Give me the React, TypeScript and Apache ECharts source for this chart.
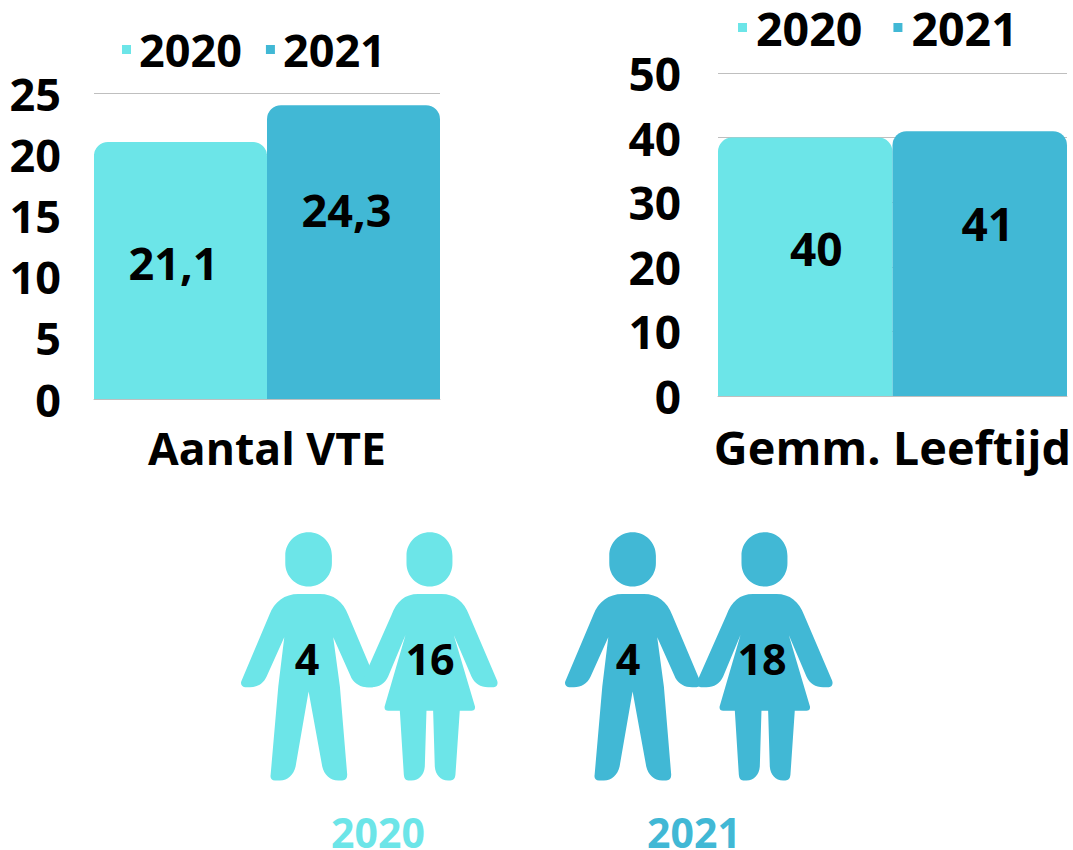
import React, { useEffect, useRef } from "react";
import * as echarts from "echarts";

const YEARS = ["2020", "2021"];
const COLORS = ["#6CE5E8", "#41B8D5"];
const GRAY = "#BFBFBF";
const FONT = "'Open Sans'";

const VTE_CATEGORY = ["Aantal VTE"];
const VTE_2020 = [21];
const VTE_2021 = [24];
const VTE_LABELS = ["21,1", "24,3"];
const VTE_LABEL_SHIFT = [[-7, -8], [-7, -43]];

const AGE_CATEGORY = ["Gemm. Leeftijd"];
const AGE_2020 = [40];
const AGE_2021 = [41];
const AGE_LABELS = ["40", "41"];
const AGE_LABEL_SHIFT = [[11, -19], [8, -41]];

const PEOPLE_2020 = ["4", "16"];
const PEOPLE_2021 = ["4", "18"];

const MAN_PATH =
  "M236 37C275 37 306 68 306 107L306 130C306 169 275 200 236 200C197 200 166 169 166 130L166 107C166 68 197 37 236 37Z" +
  "M205 222L270 222C310 222 340 245 355 285L438 482C442 492 438 502 428 502L415 502C392 502 375 492 365 475L310 352L330 500L352 765C352 776 347 782 337 782L325 782C300 782 283 765 277 740L236 515L197 740C191 765 174 782 150 782L135 782C125 782 120 776 122 765L145 500L163 352L110 470C100 492 82 502 60 502L45 502C35 502 30 492 35 482L118 285C133 245 165 222 205 222Z";

const WOMAN_PATH =
  "M600 37C639 37 668 68 668 107L668 130C668 169 639 200 600 200C561 200 530 169 530 130L530 107C530 68 561 37 600 37Z" +
  "M565 222L635 222C675 222 703 245 718 285L802 482C806 492 802 502 792 502L775 502C752 502 735 492 725 470L672 345L735 558C738 567 733 573 725 573L690 573L677 765C676 776 671 782 662 782L655 782C632 782 617 765 615 740L610 573L590 573L585 740C583 765 568 782 545 782L535 782C527 782 523 776 522 765L510 573L475 573C467 573 462 567 465 558L527 345L475 470C465 492 448 502 425 502L408 502C398 502 394 492 398 482L485 285C500 245 525 222 565 222Z";

echarts.graphic.registerShape("manIcon", echarts.graphic.extendPath(MAN_PATH, {}));
echarts.graphic.registerShape("womanIcon", echarts.graphic.extendPath(WOMAN_PATH, {}));

const bigText = { color: "#000", fontFamily: FONT, fontWeight: 700, fontSize: 45 };

function barSeries(name: string, i: number, grid: number, data: number[], label: string, shift: number[], fontSize: number) {
  return {
    type: "bar",
    name,
    xAxisIndex: grid,
    yAxisIndex: grid,
    data,
    barWidth: "50%",
    barGap: 0,
    itemStyle: { color: COLORS[i], borderRadius: [14, 14, 0, 0] },
    label: {
      show: true,
      position: "inside",
      offset: shift,
      formatter: () => label,
      ...bigText,
      fontSize,
    },
  };
}

function icon(type: string, x: number, y: number, fill: string) {
  return { type, x, y, scaleX: 1 / 3, scaleY: 1 / 3, style: { fill } };
}

function centered(text: string, x: number, y: number, color = "#000", fontSize = 43) {
  return {
    type: "text",
    x,
    y,
    style: {
      text,
      fill: color,
      fontFamily: FONT,
      fontWeight: 700,
      fontSize,
      lineHeight: 34,
      align: "center",
      verticalAlign: "middle",
    },
  };
}

export default function App() {
  const ref = useRef<HTMLDivElement>(null);
  useEffect(() => {
    const chart = echarts.init(ref.current!, undefined, { renderer: "svg" });
    const xAxis = (cats: string[], grid: number, fontSize: number, margin: number) => ({
      type: "category",
      gridIndex: grid,
      data: cats,
      axisTick: { show: false },
      axisLine: { lineStyle: { color: GRAY, width: 1 } },
      axisLabel: { ...bigText, fontSize, lineHeight: 46, margin },
    });
    const yAxis = (max: number, interval: number, grid: number, margin: number, fontSize: number, pad: number) => ({
      type: "value",
      gridIndex: grid,
      min: 0,
      max,
      interval,
      axisLine: { show: false },
      axisTick: { show: false },
      splitLine: { lineStyle: { color: GRAY, width: 1 } },
      axisLabel: { ...bigText, fontSize, margin, padding: [pad, 0, 0, 0] },
    });
    const legend = (left: number, top: number, gap: number, grid: number, fontSize: number, padLeft: number) => ({
      left,
      top,
      data: YEARS.map((name) => ({ name: grid ? name + " " : name })),
      itemWidth: 9,
      itemHeight: 9,
      itemGap: gap,
      icon: "rect",
      textStyle: { ...bigText, fontSize, lineHeight: 40, padding: [5, 0, 0, padLeft] },
      selectedMode: false,
    });
    chart.setOption({
      animation: false,
      backgroundColor: "#fff",
      grid: [
        { left: 94, top: 93, width: 346, height: 306, outerBoundsMode: "none" },
        { left: 718, top: 73, width: 349, height: 323, outerBoundsMode: "none" },
      ],
      xAxis: [xAxis(VTE_CATEGORY, 0, 44.5, 25), xAxis(AGE_CATEGORY, 1, 46.8, 28)],
      yAxis: [yAxis(25, 5, 0, 33, 45, 10), yAxis(50, 10, 1, 37, 46, 9)],
      legend: [legend(117, 22, 24, 0, 45, 3), legend(733, -1, 19, 1, 46.5, 4)],
      series: [
        barSeries("2020", 0, 0, VTE_2020, VTE_LABELS[0], VTE_LABEL_SHIFT[0], 45),
        barSeries("2021", 1, 0, VTE_2021, VTE_LABELS[1], VTE_LABEL_SHIFT[1], 45),
        barSeries("2020 ", 0, 1, AGE_2020, AGE_LABELS[0], AGE_LABEL_SHIFT[0], 46),
        barSeries("2021 ", 1, 1, AGE_2021, AGE_LABELS[1], AGE_LABEL_SHIFT[1], 46),
      ],
      graphic: [
        icon("manIcon", 230, 520, COLORS[0]),
        icon("womanIcon", 230, 520, COLORS[0]),
        icon("manIcon", 554, 520, COLORS[1]),
        icon("womanIcon", 565, 520, COLORS[1]),
        centered(PEOPLE_2020[0], 307, 658),
        centered(PEOPLE_2020[1], 430, 658),
        centered(PEOPLE_2021[0], 628, 658),
        centered(PEOPLE_2021[1], 762, 658),
        centered(YEARS[0], 378, 832, COLORS[0], 41),
        centered(YEARS[1], 694, 832, COLORS[1], 41),
      ],
    });
    return () => chart.dispose();
  }, []);
  return <div ref={ref} style={{ position: "absolute", left: 0, top: 0, width: 1073, height: 850 }} />;
}
